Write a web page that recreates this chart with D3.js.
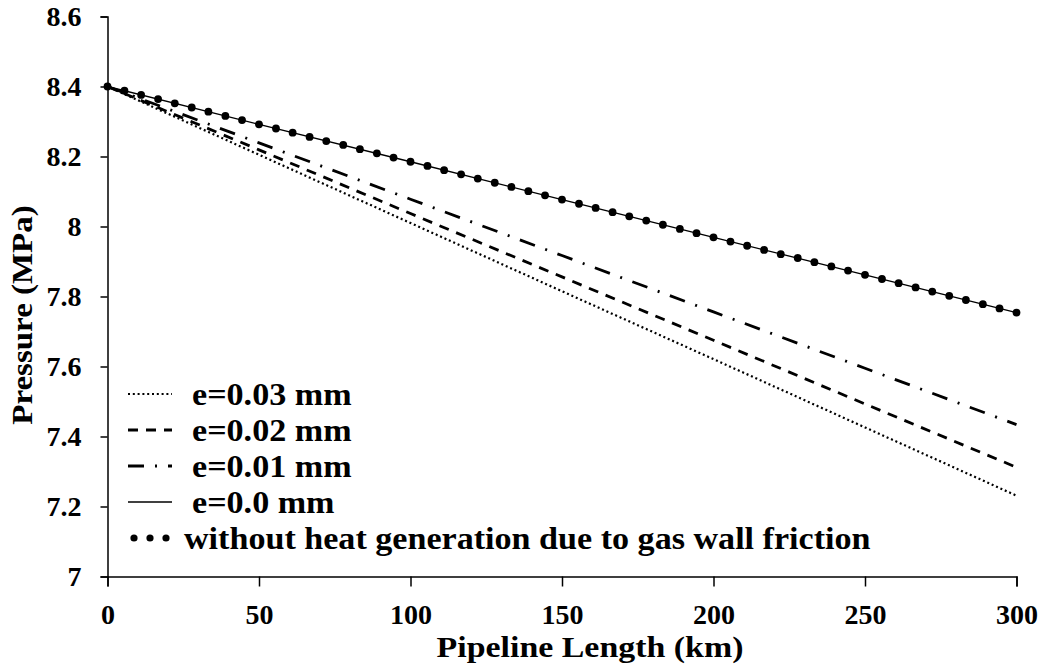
<!DOCTYPE html>
<html>
<head>
<meta charset="utf-8">
<script src="https://cdnjs.cloudflare.com/ajax/libs/d3/7.8.5/d3.min.js"></script>
<style>
  body { margin: 0; background: #fff; }
</style>
</head>
<body>
<div id="chart"></div>
<script>
var width = 1047,
height = 666;
var serif = "'Times New Roman', 'Liberation Serif', 'DejaVu Serif', serif";

// pipeline length (km) for the friction curves
var lengthKm = [0, 50, 100, 150, 200, 250, 300];
var e003 = [8.400, 8.205, 8.010, 7.815, 7.621, 7.426, 7.231];
var e002 = [8.400, 8.219, 8.037, 7.856, 7.675, 7.493, 7.312];
var e001 = [8.400, 8.239, 8.078, 7.917, 7.756, 7.595, 7.434];
var e000 = [8.400, 8.292, 8.185, 8.077, 7.969, 7.862, 7.754];

// case without heat generation (marker points)
var noHeatKm = [0, 5.6, 11.1, 16.7, 22.2, 27.8, 33.3, 38.9, 44.4, 50, 55.6, 61.1, 66.7, 72.2,
  77.8, 83.3, 88.9, 94.4, 100, 105.6, 111.1, 116.7, 122.2, 127.8, 133.3, 138.9, 144.4, 150,
  155.6, 161.1, 166.7, 172.2, 177.8, 183.3, 188.9, 194.4, 200, 205.6, 211.1, 216.7, 222.2,
  227.8, 233.3, 238.9, 244.4, 250, 255.6, 261.1, 266.7, 272.2, 277.8, 283.3, 288.9, 294.4, 300];
var noHeatP = [8.400, 8.388, 8.376, 8.364, 8.352, 8.340, 8.328, 8.316, 8.304, 8.292, 8.280,
  8.268, 8.256, 8.244, 8.233, 8.221, 8.209, 8.197, 8.185, 8.173, 8.161, 8.149, 8.137, 8.125,
  8.113, 8.101, 8.089, 8.077, 8.065, 8.053, 8.041, 8.029, 8.017, 8.005, 7.993, 7.981, 7.969,
  7.957, 7.945, 7.933, 7.921, 7.910, 7.898, 7.886, 7.874, 7.862, 7.850, 7.838, 7.826, 7.814,
  7.802, 7.790, 7.778, 7.766, 7.754];

var xTicks = [0, 50, 100, 150, 200, 250, 300];
var yTicks = [7, 7.2, 7.4, 7.6, 7.8, 8, 8.2, 8.4, 8.6];
var yTickLabels = ["7", "7.2", "7.4", "7.6", "7.8", "8", "8.2", "8.4", "8.6"];
var legendLabels = ["e=0.03 mm", "e=0.02 mm", "e=0.01 mm", "e=0.0 mm",
  "without heat generation due to gas wall friction"];

var xScale = d3.scaleLinear().domain([0, 300]).range([107.5, 1016.5]);
var yScale = d3.scaleLinear().domain([7, 8.6]).range([576.5, 16.5]);

const svg = d3.select('#chart').
append('svg').
attr('width', width).
attr('height', height).
attr('font-family', serif).
attr('font-weight', 'bold');

// axes
const xAxis = d3.axisBottom(xScale).tickValues(xTicks).tickSize(10).tickPadding(18).tickFormat(d => d);
const yAxis = d3.axisLeft(yScale).tickValues(yTicks).tickSize(7).tickPadding(19).
tickFormat((d, i) => yTickLabels[i]);

svg.append('g').
attr('transform', 'translate(0,' + yScale(7) + ')').
call(xAxis).
attr('font-family', serif).
attr('font-size', 28).
call(g => g.selectAll('path,line').attr('stroke-width', 1.5));

svg.append('g').
attr('transform', 'translate(' + xScale(0) + ',0)').
call(yAxis).
attr('font-family', serif).
attr('font-size', 28).
call(g => g.selectAll('path,line').attr('stroke-width', 1.5));

svg.selectAll('.domain').attr('fill', 'none');

// axis titles (source fonts are a bit wide, so stretch horizontally)
svg.append('text').
attr('transform', 'translate(590,657) scale(1.13,1)').
attr('text-anchor', 'middle').
attr('font-size', 30).
text('Pipeline Length (km)');

svg.append('text').
attr('transform', 'translate(32,315) rotate(-90) scale(1.1,1)').
attr('text-anchor', 'middle').
attr('font-size', 30).
text('Pressure (MPa)');

// series
var series = [
  { vals: e003, dash: '2,2.8', w: 2.2 },
  { vals: e002, dash: '10,8', w: 2.8 },
  { vals: e001, dash: '16,11,2,11', w: 2.8 },
  { vals: e000, dash: null, w: 1.3 }
];

var line = d3.line().
x(d => xScale(d[0])).
y(d => yScale(d[1]));

series.forEach(s => {
  svg.append('path').
  datum(lengthKm.map((k, i) => [k, s.vals[i]])).
  attr('d', line).
  attr('fill', 'none').
  attr('stroke', '#000').
  attr('stroke-width', s.w).
  attr('stroke-dasharray', s.dash);
});

svg.selectAll('circle.nh').
data(noHeatKm.map((k, i) => [k, noHeatP[i]])).
enter().
append('circle').
attr('class', 'nh').
attr('cx', d => xScale(d[0])).
attr('cy', d => yScale(d[1])).
attr('r', 3.9).
attr('fill', '#000');

// legend
var legend = svg.append('g');
legendLabels.forEach((lab, i) => {
  var base = 405 + i * 36;
  var ly = base - 11;
  if (i < 4) {
    legend.append('line').
    attr('x1', 128).attr('x2', 172).
    attr('y1', ly).attr('y2', ly).
    attr('stroke', '#000').
    attr('stroke-width', series[i].w).
    attr('stroke-dasharray', series[i].dash);
  } else {
    legend.selectAll('circle.lg').
    data([134, 150, 166]).
    enter().
    append('circle').
    attr('class', 'lg').
    attr('cx', d => d).
    attr('cy', ly).
    attr('r', 3.6).
    attr('fill', '#000');
  }
  legend.append('text').
  attr('transform', 'translate(' + (i < 4 ? 192 : 184) + ',' + base + ') scale(1.1,1)').
  attr('font-size', 31).
  text(lab);
});
</script>
</body>
</html>
